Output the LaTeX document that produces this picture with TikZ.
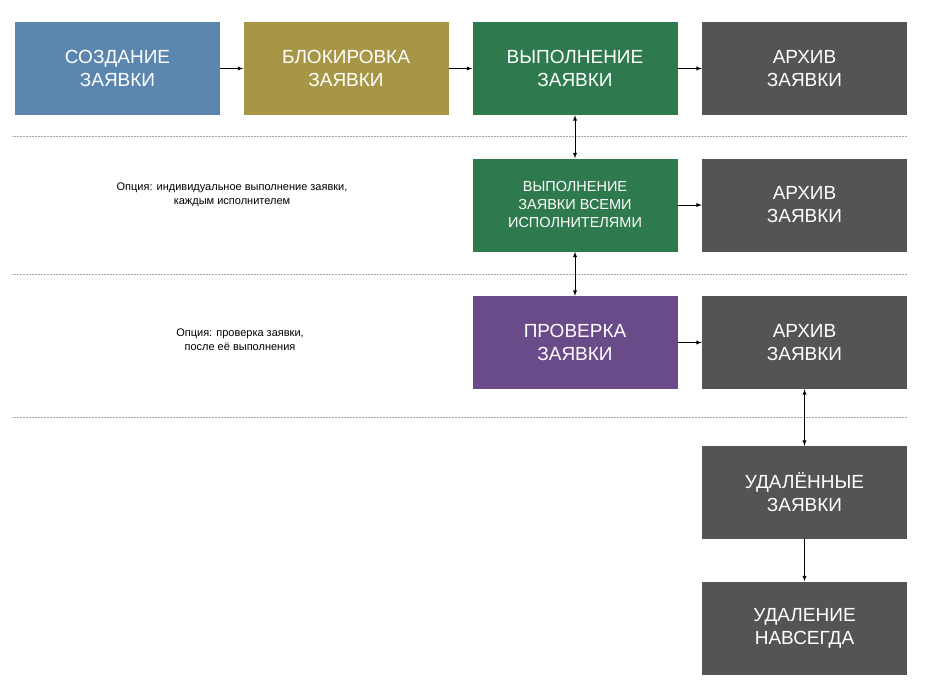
\documentclass[tikz,border=0pt]{standalone}
\usepackage{fontspec}
\setmainfont{Liberation Sans}
\begin{document}
\begin{tikzpicture}[x=1pt,y=-1pt,
  box/.style={draw=none,minimum width=205pt,minimum height=93pt,inner sep=0pt,align=center,text=white,font=\fontsize{19}{23}\selectfont},
  sbox/.style={box,font=\fontsize{14.5}{18}\selectfont},
  note/.style={align=center,font=\fontsize{11}{14}\selectfont},
  sep/.style={densely dotted,gray!70,line width=0.5pt},
  ar/.style={-latex,line width=0.9pt},
  dar/.style={latex-latex,line width=0.9pt}]
\definecolor{cblue}{HTML}{5A86B0}
\definecolor{colive}{HTML}{A69646}
\definecolor{cgreen}{HTML}{2E7A4E}
\definecolor{cgray}{HTML}{535455}
\definecolor{cpurple}{HTML}{6A4B8A}
\useasboundingbox (0,0) rectangle (925,688);
\fill[white] (0,0) rectangle (925,688);
\node[box,fill=cblue] (a1) at (117.5,68.5) {СОЗДАНИЕ\\ЗАЯВКИ};
\node[box,fill=colive] (a2) at (346,68.5) {БЛОКИРОВКА\\ЗАЯВКИ};
\node[box,fill=cgreen] (a3) at (575,68.5) {ВЫПОЛНЕНИЕ\\ЗАЯВКИ};
\node[box,fill=cgray] (a4) at (804.5,68.5) {АРХИВ\\ЗАЯВКИ};
\node[sbox,fill=cgreen] (b3) at (575,205) {ВЫПОЛНЕНИЕ\\ЗАЯВКИ ВСЕМИ\\ИСПОЛНИТЕЛЯМИ};
\node[box,fill=cgray] (b4) at (804.5,205) {АРХИВ\\ЗАЯВКИ};
\node[box,fill=cpurple] (c3) at (575,342.5) {ПРОВЕРКА\\ЗАЯВКИ};
\node[box,fill=cgray] (c4) at (804.5,342.5) {АРХИВ\\ЗАЯВКИ};
\node[box,fill=cgray] (d4) at (804.5,492.5) {УДАЛЁННЫЕ\\ЗАЯВКИ};
\node[box,fill=cgray] (e4) at (804.5,628) {УДАЛЕНИЕ\\НАВСЕГДА};
\node[note] (n1) at (232,195) {Опция: индивидуальное выполнение заявки,\\каждым исполнителем};
\node[note] (n2) at (240,340) {Опция: проверка заявки,\\после её выполнения};
\draw[sep] (12,136) -- (907,136);
\draw[sep] (12,274) -- (907,274);
\draw[sep] (12,417) -- (907,417);
\draw[ar] (a1) -- (a2);
\draw[ar] (a2) -- (a3);
\draw[ar] (a3) -- (a4);
\draw[ar] (b3) -- (b4);
\draw[ar] (c3) -- (c4);
\draw[dar] (a3) -- (b3);
\draw[dar] (b3) -- (c3);
\draw[dar] (c4) -- (d4);
\draw[ar] (d4) -- (e4);
\end{tikzpicture}
\end{document}
